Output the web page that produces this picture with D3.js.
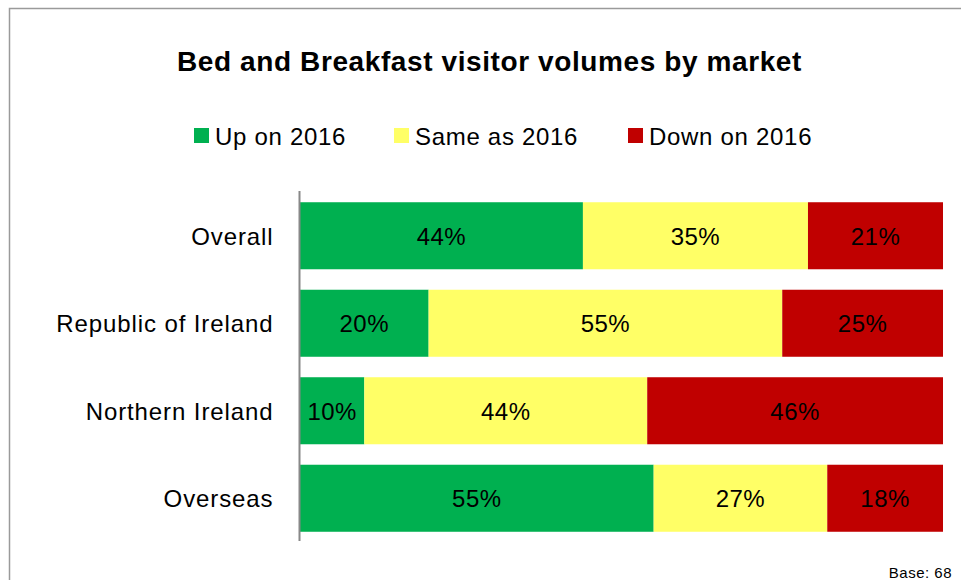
<!DOCTYPE html>
<html lang="en">
<head>
<meta charset="UTF-8">
<title>Bed and Breakfast visitor volumes by market</title>
<script src="https://d3js.org/d3.v7.min.js"></script>
<style>
    body, html {
        margin: 0;
        padding: 0;
        background: #fff;
    }
    svg text {
        font-family: "Liberation Sans", Arial, sans-serif;
        fill: #000;
    }
</style>
</head>
<body>
<div id="chart"></div>
<script>
// chart data
var markets = ["Overall", "Republic of Ireland", "Northern Ireland", "Overseas"];
var seriesNames = ["Up on 2016", "Same as 2016", "Down on 2016"];
var upValues = [44, 20, 10, 55];
var sameValues = [35, 55, 44, 27];
var downValues = [21, 25, 46, 18];
var seriesColors = ["#00B050", "#FFFF66", "#C00000"];
var baseNote = "Base: 68";

var width = 961, height = 580;

var svg = d3.select("#chart").append("svg")
    .attr("width", width)
    .attr("height", height);

// outer frame (runs off the right/bottom edge)
svg.append("rect")
    .attr("x", 9.5)
    .attr("y", 8.5)
    .attr("width", 1000)
    .attr("height", 700)
    .attr("fill", "none")
    .attr("stroke", "#9a9a9a")
    .attr("stroke-width", 1.5);

// title
svg.append("text")
    .attr("x", 489.5)
    .attr("y", 71)
    .attr("text-anchor", "middle")
    .style("font-size", "28px")
    .style("font-weight", "bold")
    .style("letter-spacing", "0.6px")
    .text("Bed and Breakfast visitor volumes by market");

// build stacked rows
var rows = markets.map(function(m, i) {
    return { market: m, up: upValues[i], same: sameValues[i], down: downValues[i] };
});
var keys = ["up", "same", "down"];
var stacked = d3.stack().keys(keys)(rows);

var x = d3.scaleLinear().domain([0, 100]).range([300, 943]);
var y = d3.scaleBand().domain(markets).range([192, 542])
    .paddingInner(0.234).paddingOuter(0.117);
var color = d3.scaleOrdinal().domain(keys).range(seriesColors);

var layers = svg.selectAll("g.layer")
    .data(stacked)
    .enter().append("g")
    .attr("class", "layer")
    .attr("fill", function(d) { return color(d.key); });

layers.selectAll("rect")
    .data(function(d) { return d; })
    .enter().append("rect")
    .attr("x", function(d) { return x(d[0]); })
    .attr("y", function(d) { return y(d.data.market); })
    .attr("width", function(d) { return x(d[1]) - x(d[0]); })
    .attr("height", y.bandwidth());

// value labels
layers.selectAll("text")
    .data(function(d) { return d; })
    .enter().append("text")
    .attr("x", function(d) { return (x(d[0]) + x(d[1])) / 2; })
    .attr("y", function(d) { return y(d.data.market) + y.bandwidth() / 2 + 9; })
    .attr("text-anchor", "middle")
    .style("font-size", "24px")
    .style("letter-spacing", "0.5px")
    .text(function(d) { return (d[1] - d[0]) + "%"; });

// category axis
var yAxis = svg.append("g")
    .attr("transform", "translate(299.5,0)")
    .call(d3.axisLeft(y).tickSize(0).tickPadding(26));
yAxis.select(".domain")
    .attr("d", "M0,191V541")
    .attr("stroke", "#888")
    .attr("stroke-width", 2);
yAxis.selectAll(".tick text")
    .attr("dy", "0.375em")
    .style("font-size", "24px")
    .style("letter-spacing", "0.9px")
    .style("font-family", "\"Liberation Sans\", Arial, sans-serif")
    .attr("fill", "#000");

// legend
var legendX = [194, 394, 628];
var legend = svg.append("g").attr("class", "legend");
seriesNames.forEach(function(name, i) {
    legend.append("rect")
        .attr("x", legendX[i])
        .attr("y", 128)
        .attr("width", 15)
        .attr("height", 15)
        .attr("fill", seriesColors[i]);
    legend.append("text")
        .attr("x", legendX[i] + 21)
        .attr("y", 145)
        .style("font-size", "24px")
        .style("letter-spacing", "0.7px")
        .text(name);
});

// base note
svg.append("text")
    .attr("x", 952)
    .attr("y", 578)
    .attr("text-anchor", "end")
    .style("font-size", "15px")
    .style("letter-spacing", "0.5px")
    .text(baseNote);
</script>
</body>
</html>
